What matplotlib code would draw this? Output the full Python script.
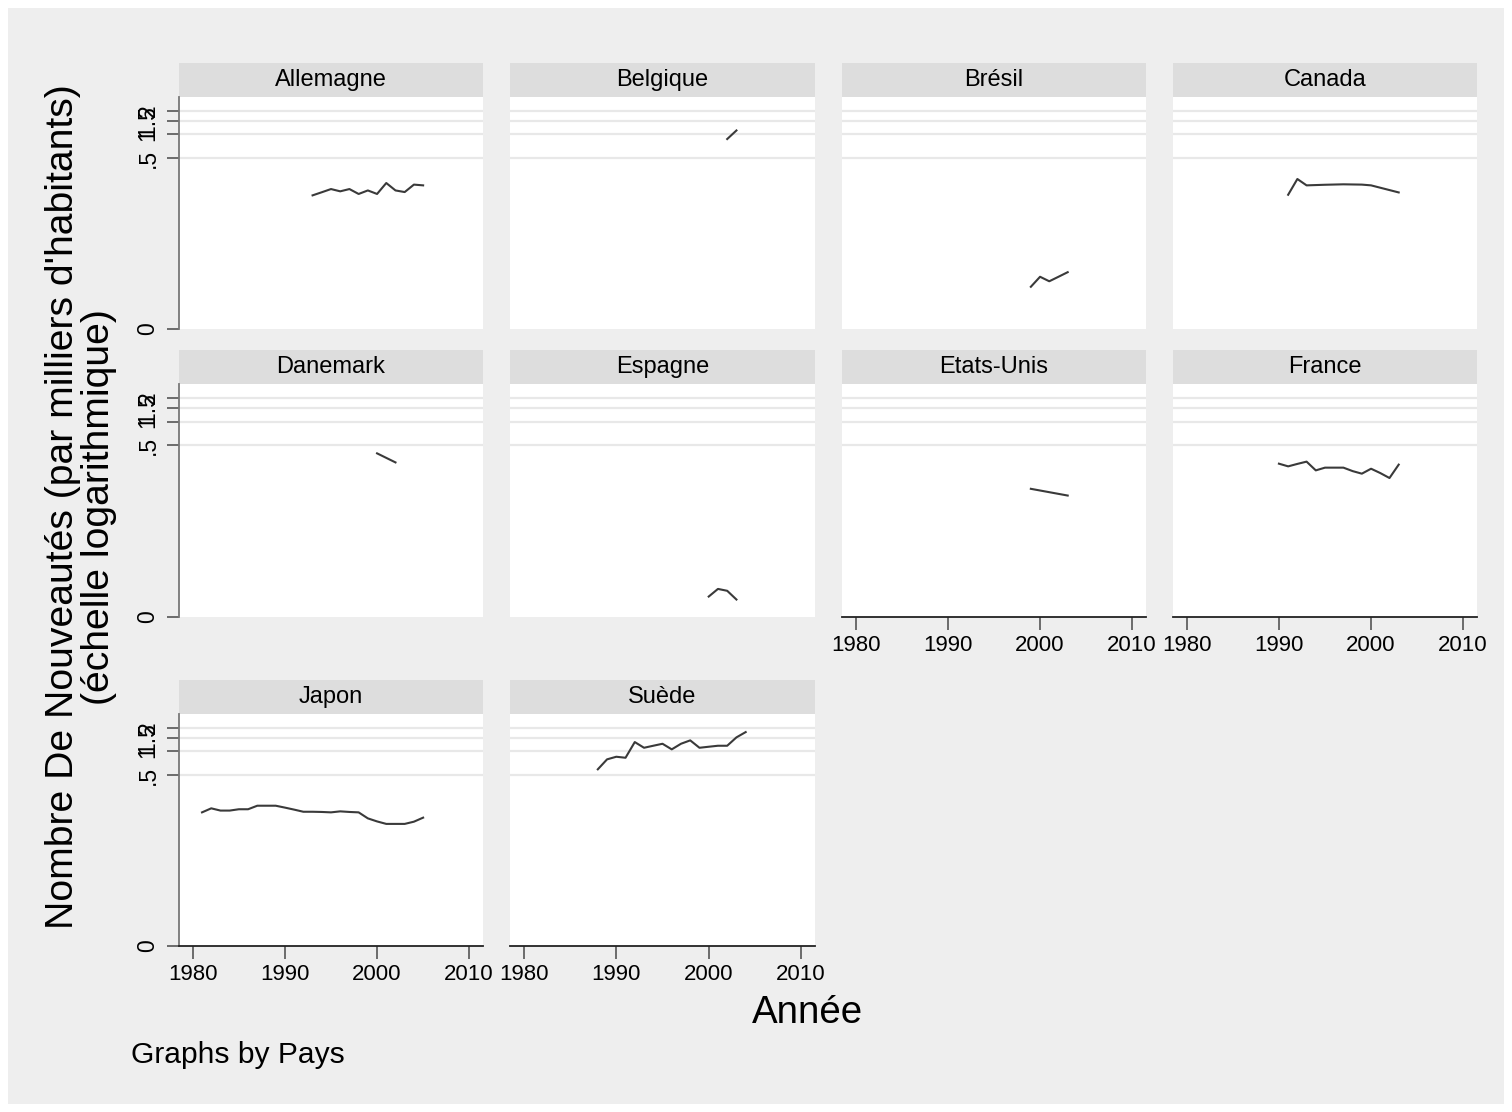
import matplotlib
matplotlib.use('Agg')
import matplotlib.pyplot as plt
from matplotlib.patches import Rectangle
from matplotlib.ticker import NullLocator

plt.rcParams['font.family'] = ['Liberation Sans', 'DejaVu Sans']

# ---------------- data ----------------
countries = ["Allemagne", "Belgique", "Brésil", "Canada", "Danemark",
             "Espagne", "Etats-Unis", "France", "Japon", "Suède"]

years_allemagne = [1993, 1994, 1995, 1996, 1997, 1998, 1999, 2000, 2001, 2002, 2003, 2004, 2005]
vals_allemagne = [0.167, 0.183, 0.201, 0.188, 0.201, 0.174, 0.193, 0.174, 0.240, 0.193, 0.184, 0.229, 0.224]

years_belgique = [2002, 2003]
vals_belgique = [0.873, 1.123]

years_bresil = [1999, 2000, 2001, 2002, 2003]
vals_bresil = [0.0114, 0.0153, 0.0134, 0.0153, 0.0175]

years_canada = [1991, 1992, 1993, 1995, 1997, 1999, 2000, 2003]
vals_canada = [0.170, 0.270, 0.224, 0.228, 0.231, 0.229, 0.224, 0.182]

years_danemark = [2000, 2002]
vals_danemark = [0.395, 0.303]

years_espagne = [2000, 2001, 2002, 2003]
vals_espagne = [0.0060, 0.0075, 0.0071, 0.0055]

years_etatsunis = [1999, 2003]
vals_etatsunis = [0.140, 0.115]

years_france = [1990, 1991, 1992, 1993, 1994, 1995, 1996, 1997, 1998, 1999, 2000, 2001, 2002, 2003]
vals_france = [0.292, 0.270, 0.290, 0.310, 0.240, 0.260, 0.260, 0.260, 0.235, 0.218, 0.252, 0.222, 0.192, 0.284]

years_japon = list(range(1981, 2006))
vals_japon = [0.167, 0.188, 0.176, 0.176, 0.183, 0.183, 0.203, 0.203, 0.203, 0.192,
              0.181, 0.170, 0.170, 0.169, 0.167, 0.172, 0.169, 0.167, 0.140, 0.128,
              0.119, 0.119, 0.119, 0.127, 0.143]

years_suede = list(range(1988, 2005))
vals_suede = [0.591, 0.792, 0.855, 0.830, 1.316, 1.113, 1.181, 1.252, 1.062, 1.252,
              1.383, 1.113, 1.147, 1.181, 1.181, 1.510, 1.764]

series_years = [years_allemagne, years_belgique, years_bresil, years_canada, years_danemark,
                years_espagne, years_etatsunis, years_france, years_japon, years_suede]
series_vals = [vals_allemagne, vals_belgique, vals_bresil, vals_canada, vals_danemark,
               vals_espagne, vals_etatsunis, vals_france, vals_japon, vals_suede]

ytick_vals = [0.0033, 0.5, 1, 1.5, 2]
ytick_labels = ["0", ".5", "1", "1.5", "2"]
grid_vals = [0.5, 1, 1.5, 2]
xtick_vals = [1980, 1990, 2000, 2010]
xtick_labels = ["1980", "1990", "2000", "2010"]

# ---------------- layout ----------------
W, H = 1512, 1112
fig = plt.figure(figsize=(W / 100, H / 100), dpi=100)
fig.patch.set_facecolor('white')
fig.patches.append(Rectangle((8 / W, 8 / H), 1 - 16 / W, 1 - 16 / H, transform=fig.transFigure,
                             facecolor='#EEEEEE', edgecolor='none', zorder=-10))

col_x = [(179, 483), (510, 815), (842, 1146), (1173, 1477)]
row_y = [(97, 329), (384, 617), (714, 946)]
strip_h = 34

line_color = '#3A3A3A'

for i, name in enumerate(countries):
    r, c = divmod(i, 4)
    x0, x1 = col_x[c]
    y0, y1 = row_y[r]
    ax = fig.add_axes([x0 / W, 1 - y1 / H, (x1 - x0) / W, (y1 - y0) / H])
    ax.set_facecolor('white')
    ax.set_yscale('log')
    ax.set_ylim(0.0033, 3.0)
    ax.set_xlim(1978.5, 2011.5)
    ax.yaxis.set_minor_locator(NullLocator())
    ax.xaxis.set_minor_locator(NullLocator())
    for g in grid_vals:
        ax.axhline(g, color='#E8E8E8', lw=1.6, zorder=1)
    ax.plot(series_years[i], series_vals[i], color=line_color, lw=1.5, zorder=3)

    for s in ['top', 'right']:
        ax.spines[s].set_visible(False)

    show_y = (c == 0)
    show_x = (i >= 6)

    if show_y:
        ax.set_yticks(ytick_vals)
        ax.set_yticklabels(ytick_labels)
        ax.spines['left'].set_color('#777777')
        ax.spines['left'].set_linewidth(1.3)
        ax.tick_params(axis='y', length=9, width=1.2, color='#555555', pad=5,
                       labelsize=16.5, labelrotation=90)
        for lab in ax.get_yticklabels():
            lab.set_va('center')
    else:
        ax.set_yticks([])
        ax.spines['left'].set_visible(False)

    if show_x:
        ax.set_xticks(xtick_vals)
        ax.set_xticklabels(xtick_labels)
        ax.spines['bottom'].set_color('#222222')
        ax.spines['bottom'].set_linewidth(1.3)
        ax.tick_params(axis='x', length=9, width=1.2, color='#555555', pad=4, labelsize=16)
    else:
        ax.set_xticks([])
        ax.spines['bottom'].set_visible(False)

    # strip
    fig.patches.append(Rectangle((x0 / W, 1 - y0 / H), (x1 - x0) / W, strip_h / H,
                                 transform=fig.transFigure, facecolor='#DDDDDD',
                                 edgecolor='none', zorder=-5))
    fig.text((x0 + x1) / 2 / W, 1 - (y0 - strip_h / 2) / H, name, ha='center', va='center',
             fontsize=17, color='black')

fig.text(807 / W, 1 - 1013 / H, "Année", ha='center', va='center', fontsize=27.7)
fig.text(81 / W, 1 - 507 / H,
         "Nombre De Nouveautés (par milliers d'habitants)\n(échelle logarithmique)",
         rotation=90, ha='center', va='center', multialignment='center',
         fontsize=28.2, linespacing=1.0)
fig.text(131 / W, 1 - 1055 / H, "Graphs by Pays", ha='left', va='center', fontsize=21.6)

fig.savefig('out.png', dpi=100, facecolor=fig.get_facecolor())
